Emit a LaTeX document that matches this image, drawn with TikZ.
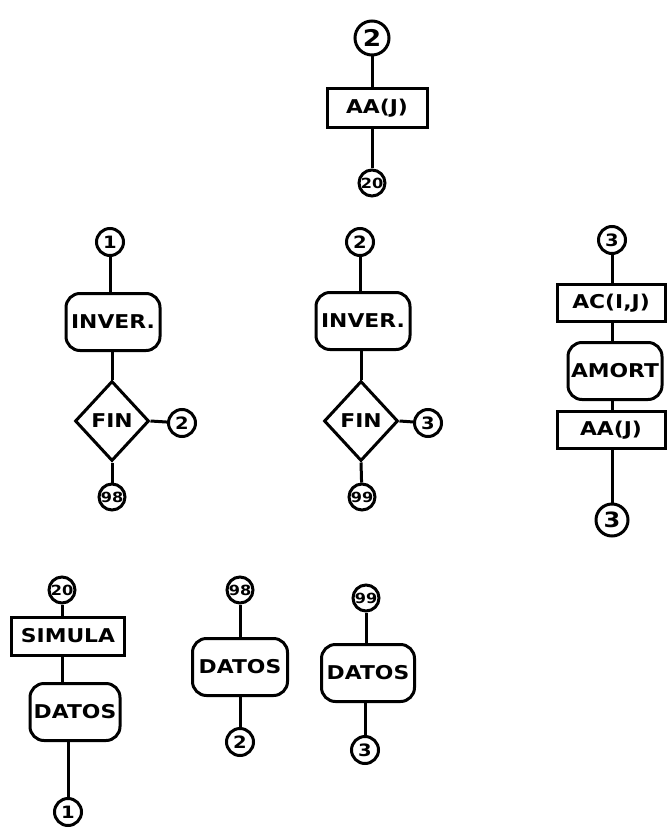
\documentclass[tikz,border=0pt]{standalone}
\usepackage{fontspec}
\newfontfamily\pix[FakeStretch=1.15]{DejaVu Sans}
\usetikzlibrary{shapes.geometric}
\tikzset{
  every node/.style={font=\pix\bfseries},
  con/.style={draw, circle, line width=3pt, inner sep=0pt, minimum size=27pt, font=\pix\bfseries\fontsize{17}{17}\selectfont},
  bigcon/.style={con, minimum size=34pt, font=\pix\bfseries\fontsize{23}{23}\selectfont},
  smallcon/.style={con, minimum size=26pt, font=\pix\bfseries\fontsize{14}{14}\selectfont},
  procbox/.style={draw, rectangle, line width=3pt, inner sep=0pt, font=\pix\bfseries\fontsize{19}{19}\selectfont},
  subbox/.style={draw, rounded corners=14pt, line width=3pt, inner sep=0pt, minimum height=57pt, font=\pix\bfseries\fontsize{19}{19}\selectfont},
  decbox/.style={draw, diamond, line width=3pt, inner sep=0pt, minimum width=74pt, minimum height=80pt, font=\pix\bfseries\fontsize{19}{19}\selectfont},
  wire/.style={line width=3pt}
}
\begin{document}
\begin{tikzpicture}[x=1pt,y=-1pt]
\useasboundingbox (0,0) rectangle (669,829);
% top chain
\node[bigcon] (t2) at (372,38) {2};
\node[procbox, minimum width=100pt, minimum height=39pt] (taa) at (377,108) {AA(J)};
\node[smallcon] (t20) at (372,183) {20};
\draw[wire] (t2) -- (t2 |- taa.north);
\draw[wire] (t20 |- taa.south) -- (t20);
% left chain
\node[con] (l1) at (110,242) {1};
\node[subbox, minimum width=94pt] (linv) at (113,322) {INVER.};
\node[decbox] (lfin) at (112,421) {FIN};
\node[con] (l2) at (182,423) {2};
\node[smallcon] (l98) at (112,497) {98};
\draw[wire] (l1) -- (l1 |- linv.north);
\draw[wire] (lfin.north) -- (lfin.north |- linv.south);
\draw[wire] (lfin.east) -- (l2);
\draw[wire] (lfin.south) -- (l98);
% middle chain
\node[con] (m2) at (360,242) {2};
\node[subbox, minimum width=94pt] (minv) at (363,321) {INVER.};
\node[decbox] (mfin) at (361,421) {FIN};
\node[con] (m3) at (428,423) {3};
\node[smallcon] (m99) at (362,497) {99};
\draw[wire] (m2) -- (m2 |- minv.north);
\draw[wire] (mfin.north) -- (mfin.north |- minv.south);
\draw[wire] (mfin.east) -- (m3);
\draw[wire] (mfin.south) -- (m99);
% right chain
\node[con] (r3) at (612,240) {3};
\node[procbox, minimum width=108pt, minimum height=37pt] (rac) at (611,303) {AC(I,J)};
\node[subbox, minimum width=94pt] (ram) at (615,371) {AMORT};
\node[procbox, minimum width=108pt, minimum height=37pt] (raa) at (611,430) {AA(J)};
\node[bigcon, minimum size=32pt, font=\pix\bfseries\fontsize{21}{21}\selectfont] (r3b) at (612,520) {3};
\draw[wire] (r3) -- (r3 |- rac.north);
\draw[wire] (r3 |- rac.south) -- (r3 |- ram.north);
\draw[wire] (r3 |- ram.south) -- (r3 |- raa.north);
\draw[wire] (r3 |- raa.south) -- (r3b);
% bottom left
\node[smallcon] (b20) at (62,590) {20};
\node[procbox, minimum width=113pt, minimum height=38pt] (bsim) at (68,636) {SIMULA};
\node[subbox, minimum width=90pt] (bdat) at (75,712) {DATOS};
\node[con] (b1) at (68,812) {1};
\draw[wire] (b20) -- (b20 |- bsim.north);
\draw[wire] (b20 |- bsim.south) -- (b20 |- bdat.north);
\draw[wire] (b1 |- bdat.south) -- (b1);
% bottom middle
\node[smallcon] (c98) at (240,590) {98};
\node[subbox, minimum width=95pt] (cdat) at (240,667) {DATOS};
\node[con] (c2) at (240,742) {2};
\draw[wire] (c98) -- (cdat);
\draw[wire] (cdat) -- (c2);
% bottom right
\node[smallcon] (d99) at (366,598) {99};
\node[subbox, minimum width=93pt] (ddat) at (368,673) {DATOS};
\node[con] (d3) at (365,750) {3};
\draw[wire] (d99) -- (d99 |- ddat.north);
\draw[wire] (d3 |- ddat.south) -- (d3);
\end{tikzpicture}
\end{document}
